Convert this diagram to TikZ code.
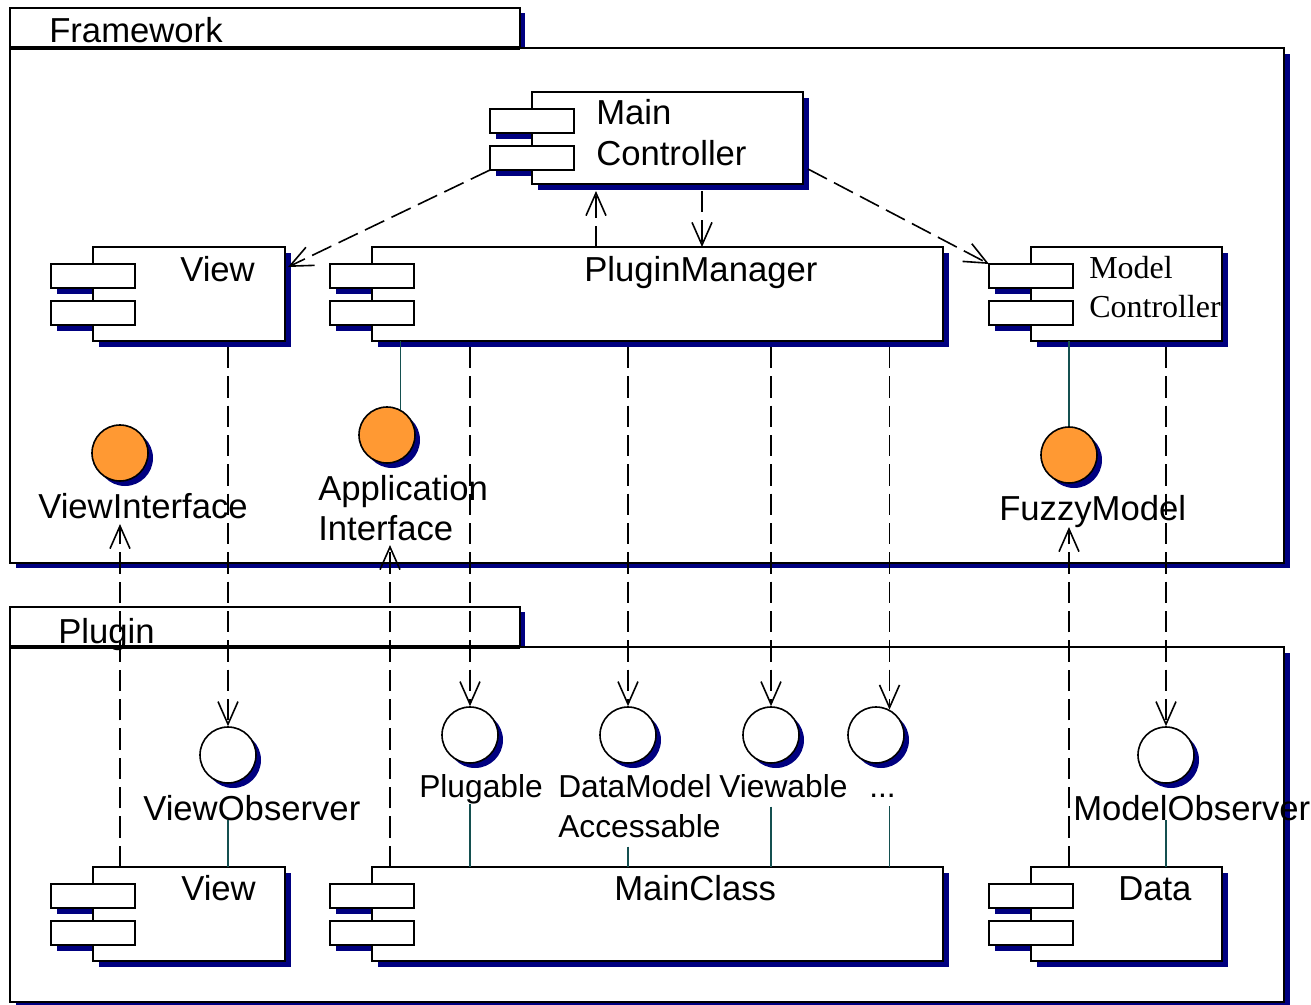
\documentclass[tikz,border=0pt]{standalone}
\usepackage{fontspec}
\setmainfont{Liberation Sans}
\newfontfamily\timesfont{Liberation Serif}
\usetikzlibrary{arrows.meta,shadows,calc}
\definecolor{shnavy}{RGB}{0,0,128}
\definecolor{ifaceorange}{RGB}{255,153,51}
\definecolor{wirecol}{RGB}{20,80,80}

% UML component: name, left, top, right, bottom (in px units)
\newcommand\umlcomp[5]{%
  \fill[shnavy] ({#2-36},{#3+23}) rectangle ({#2+48},{#3+47});
  \fill[shnavy] ({#2-36},{#3+60}) rectangle ({#2+48},{#3+84});
  \fill[shnavy] ({#2+6},{#3+6}) rectangle ({#4+6},{#5+6});
  \node[compbox, anchor=north west,
        minimum width={(#4-#2)*0.75pt}, minimum height={(#5-#3)*0.75pt}] (#1) at (#2,#3) {};
  \node[compbox, anchor=north west, minimum width=63pt, minimum height=18pt] (#1-a) at ({#2-42},{#3+17}) {};
  \node[compbox, anchor=north west, minimum width=63pt, minimum height=18pt] (#1-b) at ({#2-42},{#3+54}) {};
}

\begin{document}
\begin{tikzpicture}[x=0.75pt,y=-0.75pt,
  compbox/.style={draw, fill=white, line width=1.2pt, inner sep=0pt, outer sep=0pt},
  pkgbox/.style={draw, fill=white, line width=1.2pt, inner sep=0pt, outer sep=0pt},
  lbl/.style={font=\fontsize{26}{30}\selectfont, inner sep=0pt, anchor=base west},
  smlbl/.style={font=\fontsize{23.8}{28}\selectfont, inner sep=0pt, anchor=base west},
  serlbl/.style={font=\timesfont\fontsize{24}{28}\selectfont, inner sep=0pt, anchor=base west},
  iface/.style={circle, draw, line width=1.2pt, fill=ifaceorange, minimum size=42pt, inner sep=0pt,
    general shadow={fill=shnavy, shadow xshift=3.75pt, shadow yshift=-3.75pt}},
  port/.style={iface, fill=white},
  dep/.style={draw, line width=1.2pt, dash pattern=on 16pt off 6pt,
    -{Straight Barb[length=17pt,width=15pt,line width=1.2pt]}},
  wire/.style={draw=wirecol, line width=1.2pt}]

\useasboundingbox (0,0) rectangle (1311,1004);
\clip (0,0) rectangle (1311,1004);

% ---------- packages ----------
\fill[shnavy] (16,54) rectangle (1290,568);
\fill[shnavy] (520,13) rectangle (525,48);
\node[pkgbox, anchor=north west, minimum width={1274*0.75pt}, minimum height={515*0.75pt}] (fw) at (10,48) {};
\node[pkgbox, anchor=north west, minimum width={510*0.75pt}, minimum height={40*0.75pt}] (fwtab) at (10,8) {};
\draw[line width=2.4pt] (fwtab.south west) -- (fwtab.south east);
\node[lbl] (fwlbl) at (49,42) {Framework};

\fill[shnavy] (16,653) rectangle (1290,1010);
\fill[shnavy] (520,612) rectangle (525,647);
\node[pkgbox, anchor=north west, minimum width={1274*0.75pt}, minimum height={355*0.75pt}] (pl) at (10,647) {};
\node[pkgbox, anchor=north west, minimum width={510*0.75pt}, minimum height={40*0.75pt}] (pltab) at (10,607) {};
\draw[line width=2.4pt] (pltab.south west) -- (pltab.south east);
\node[lbl] (pllbl) at (58,643) {Plugin};

% ---------- components ----------
\umlcomp{mc}{532}{92}{803}{184}
\node[lbl] (mclbl1) at (596,124) {Main};
\node[lbl] (mclbl2) at (596,165) {Controller};

\umlcomp{fview}{93}{247}{285}{341}
\node[lbl] (fviewlbl) at (180,281) {View};

\umlcomp{pm}{372}{247}{943}{341}
\node[lbl] (pmlbl) at (584,281) {PluginManager};

\umlcomp{mctl}{1031}{247}{1222}{341}
\node[serlbl] (mctllbl1) at (1089,278) {Model};
\node[serlbl] (mctllbl2) at (1089,317) {Controller};

\umlcomp{pview}{93}{867}{285}{961}
\node[lbl] (pviewlbl) at (181,900) {View};

\umlcomp{mainclass}{372}{867}{943}{961}
\node[lbl] (mainclasslbl) at (614,900) {MainClass};

\umlcomp{data}{1031}{867}{1222}{961}
\node[lbl] (datalbl) at (1118,900) {Data};

% ---------- provided interfaces ----------
\node[iface] (vi) at (120,453) {};
\node[lbl] (vilbl) at (38,518) {ViewInterface};
\node[iface] (appc) at (387,435) {};
\node[lbl] (applbl1) at (318,500) {Application};
\node[lbl] (applbl2) at (318,540) {Interface};
\node[iface] (fm) at (1069,455) {};
\node[lbl] (fmlbl) at (999,520) {FuzzyModel};

% ---------- required interfaces ----------
\node[port] (vo) at (228,755) {};
\node[lbl] (volbl) at (143,820) {ViewObserver};
\node[port] (plug) at (470,735) {};
\node[smlbl] (pluglbl) at (419,797) {Plugable};
\node[port] (dm) at (628,735) {};
\node[smlbl] (dmlbl1) at (558,797) {DataModel};
\node[smlbl] (dmlbl2) at (558,837) {Accessable};
\node[port] (vw) at (771,735) {};
\node[smlbl] (vwlbl) at (719,797) {Viewable};
\node[port] (dots) at (876,735) {};
\node[smlbl] (dotslbl) at (869,797) {...};
\node[port] (mo) at (1166,755) {};
\node[lbl] (molbl) at (1073,820) {ModelObserver};

% ---------- realisation wires ----------
\draw[wire] (pm.south -| appc.62) -- (appc.62);
\draw[wire] (mctl.south -| fm.north) -- (fm.north);
\draw[wire] (volbl.base -| vo.north) -- (pview.north -| vo.north);
\draw[wire] (pluglbl.south -| plug.north) -- (mainclass.north -| plug.north);
\draw[wire] ($(dmlbl2.south -| dm.north)+(0,9)$) -- (mainclass.north -| dm.north);
\draw[wire] ($(vwlbl.south -| vw.north)+(0,9)$) -- (mainclass.north -| vw.north);
\draw[wire] ($(dotslbl.south -| dots.62)+(0,9)$) -- (mainclass.north -| dots.62);
\draw[wire] (molbl.base -| mo.north) -- (data.north -| mo.north);

% ---------- dependencies ----------
\coordinate (xUp) at (596,0);
\coordinate (xDown) at (702,0);
\coordinate (viTip) at (120,524);
\coordinate (apTip) at (390,545);
\coordinate (fmTip) at (1069,527);

\draw[dep] (mc-b.south west) -- ($(fview.north east)+(3,20)$);
\draw[dep] ($(mc.south east)+(5,-15)$) -- (mctl-a.north west);
\draw[dep] (pm.north -| xUp) -- ($(mc.south -| xUp)+(0,7)$);
\draw[dep] ($(mc.south -| xDown)+(0,7)$) -- (pm.north -| xDown);

\draw[dep] ($(vo.north |- fview.south)+(0,6)$) -- (vo.north);
\draw[dep] ($(plug.north |- pm.south)+(0,6)$) -- (plug.north);
\draw[dep] ($(dm.north |- pm.south)+(0,6)$) -- (dm.north);
\draw[dep] ($(vw.north |- pm.south)+(0,6)$) -- (vw.north);
\draw[dep] ($(dots.62 |- pm.south)+(0,6)$) -- (dots.62);
\draw[dep] ($(mo.north |- mctl.south)+(0,6)$) -- (mo.north);

\draw[dep] (pview.north -| viTip) -- (viTip);
\draw[dep] (mainclass.north -| apTip) -- (apTip);
\draw[dep] (data.north -| fmTip) -- (fmTip);
\end{tikzpicture}
\end{document}
